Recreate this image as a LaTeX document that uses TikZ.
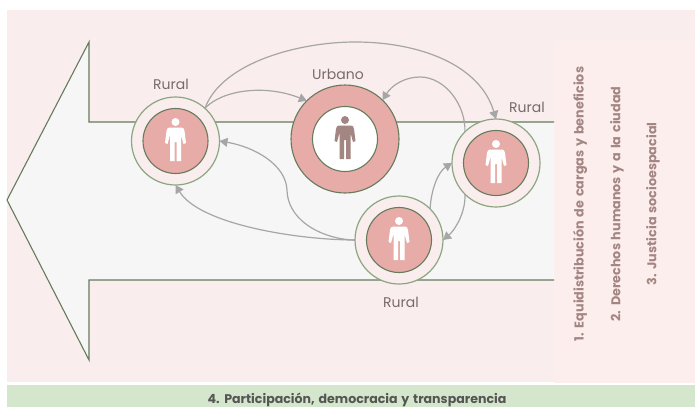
\documentclass[tikz,border=0pt]{standalone}
\usepackage{fontspec}
\setmainfont{Poppins}[WordSpace=1.4]
\usetikzlibrary{arrows.meta}
\definecolor{bgpink}{HTML}{FAEDED}
\definecolor{panelpink}{HTML}{FDEEEE}
\definecolor{bandgreen}{HTML}{D4E6CB}
\definecolor{shaft}{HTML}{F6F6F6}
\definecolor{darkgreen}{HTML}{667A5C}
\definecolor{lightgreen}{HTML}{8CA67F}
\definecolor{rosefill}{HTML}{E7ACA8}
\definecolor{mauve}{HTML}{A38582}
\definecolor{labelgrey}{HTML}{7A6A6A}
\definecolor{bandtext}{HTML}{555555}
\definecolor{link}{HTML}{A6A6A6}
\tikzset{
  outerring/.style={circle,draw=lightgreen,fill=bgpink,line width=1.2pt,minimum size=88pt,inner sep=0pt,outer sep=0pt},
  innerdisc/.style={circle,draw=darkgreen,fill=rosefill,line width=1.1pt,minimum size=65pt,inner sep=0pt,outer sep=0pt},
  bigring/.style={circle,draw=darkgreen,fill=rosefill,line width=1.1pt,minimum size=108pt,inner sep=0pt,outer sep=0pt},
  whitedisc/.style={circle,draw=darkgreen,fill=white,line width=1.1pt,minimum size=65pt,inner sep=0pt,outer sep=0pt},
  placelabel/.style={text=labelgrey,font=\fontsize{14}{16}\selectfont,inner sep=0pt},
  sidelabel/.style={text=mauve,font=\fontsize{12.75}{14}\selectfont\bfseries,rotate=90,inner sep=0pt},
  linkline/.style={draw=link,line width=1.2pt,-{Triangle[length=8pt,width=9pt]}},
  pics/person/.style={code={
    \fill[#1] (0,-19) circle (4pt);
    \fill[#1] (-6,-13.5) -- (6,-13.5) .. controls (8,-13.5) and (8.5,-12) .. (9,-10)
      -- (10.5,2) -- (8,3) -- (5.5,-6) -- (5.5,20) -- (1,20) -- (1,1) -- (-1,1) -- (-1,20) -- (-5.5,20)
      -- (-5.5,-6) -- (-8,3) -- (-10.5,2) -- (-9,-10) .. controls (-8.5,-12) and (-8,-13.5) .. (-6,-13.5) -- cycle;
  }}
}
\begin{document}
\begin{tikzpicture}[x=1pt,y=-1pt]
\useasboundingbox (0,0) rectangle (695,407);
\fill[white] (0,0) rectangle (695,407);
\fill[bgpink] (7,10) rectangle (695,382);
\fill[bandgreen] (7,385) rectangle (695,407);
\fill[panelpink] (554,39) rectangle (695,383);
% arrow
\path[fill=shaft] (7,200) -- (89,42) -- (89,122) -- (554,122) -- (554,280) -- (89,280) -- (89,360) -- cycle;
\draw[darkgreen,line width=1.1pt,line join=miter] (554,122) -- (89,122) -- (89,42) -- (7,200) -- (89,360) -- (89,280) -- (554,280);
% nodes
\node[outerring] (r1) at (175.5,141) {};
\node[innerdisc] (r1i) at (r1) {};
\node[bigring] (u) at (345,139) {};
\node[whitedisc] (ui) at (u) {};
\node[outerring] (r2) at (496,163) {};
\node[innerdisc] (r2i) at (r2) {};
\node[outerring] (r3) at (399,240) {};
\node[innerdisc] (r3i) at (r3) {};
\pic at (r1) {person=white};
\pic at (u) {person=mauve};
\pic at (r2) {person=white};
\pic at (r3) {person=white};
% connectors
\draw[linkline] (r1.48) .. controls (222,62) and (300,42) .. (355,42) .. controls (420,42) and (480,65) .. (r2.90);
\draw[linkline] (r1.48) .. controls (222,90) and (265,84) .. (u.135);
\draw[linkline] (r2.135) .. controls (466,105) and (445,77) .. (420,77) .. controls (405,77) and (392,85) .. (u.46);
\draw[linkline] (r2.225) .. controls (466,212) and (455,230) .. (r3.0);
\draw[linkline] (r3.45) .. controls (431,190) and (438,172) .. (r2.180);
\draw[linkline] (r3.180) .. controls (330,240) and (288,225) .. (287,190) .. controls (286,165) and (255,147) .. (r1.0);
\draw[linkline] (r3.180) .. controls (300,240) and (200,225) .. (r1.270);
% labels
\node[placelabel] (l1) at (171,84) {Rural};
\node[placelabel] (l2) at (338,74) {Urbano};
\node[placelabel] (l3) at (527,107) {Rural};
\node[placelabel] (l4) at (401,302) {Rural};
\node[sidelabel] (s1) at (580,204) {1. Equidistribución de cargas y beneficios};
\node[sidelabel] (s2) at (617,204) {2. Derechos humanos y a la ciudad};
\node[sidelabel] (s3) at (653,204) {3. Justicia socioespacial};
\node[text=bandtext,font=\fontsize{12.6}{14}\selectfont\bfseries,inner sep=0pt] (b) at (357,400) {4. Participación, democracia y transparencia};
\end{tikzpicture}
\end{document}
